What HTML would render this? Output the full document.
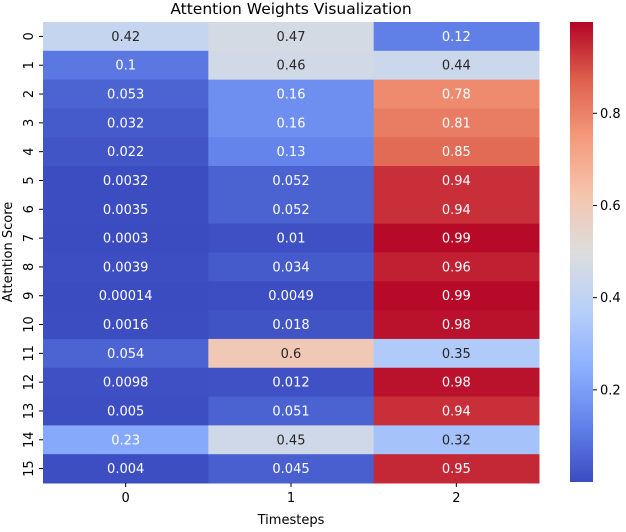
<!DOCTYPE html>
<html><head><meta charset="utf-8"><style>
body{margin:0;background:#fff;font-family:"DejaVu Sans","Liberation Sans",sans-serif;}
svg text{font-family:"DejaVu Sans","Liberation Sans",sans-serif;}
</style></head><body>
<svg id="chart" width="626" height="528" xmlns="http://www.w3.org/2000/svg">
<defs><linearGradient id="cbg" x1="0" y1="1" x2="0" y2="0"></linearGradient></defs>
<text x="291" y="14" text-anchor="middle" font-size="15.5" fill="#000">Attention Weights Visualization</text>
<g id="cells"></g>
<g id="axes"></g>
<text x="291" y="524" text-anchor="middle" font-size="13">Timesteps</text>
<text transform="translate(12,252) rotate(-90)" text-anchor="middle" font-size="13">Attention Score</text>
<rect x="570" y="22" width="23" height="460" fill="url(#cbg)"/>
<g id="cbticks"></g>
</svg>
<script>
const timesteps = ["0","1","2"];
const rowLabels = ["0","1","2","3","4","5","6","7","8","9","10","11","12","13","14","15"];
const col0 = [0.42,0.1,0.053,0.032,0.022,0.0032,0.0035,0.0003,0.0039,0.00014,0.0016,0.054,0.0098,0.005,0.23,0.004];
const col1 = [0.47,0.46,0.16,0.16,0.13,0.052,0.052,0.01,0.034,0.0049,0.018,0.6,0.012,0.051,0.45,0.045];
const col2 = [0.12,0.44,0.78,0.81,0.85,0.94,0.94,0.99,0.96,0.99,0.98,0.35,0.98,0.94,0.32,0.95];
const cbTicks = [0.2,0.4,0.6,0.8];
const vmin = 0.00014, vmax = 0.998;

const NS="http://www.w3.org/2000/svg";
const L=43,R=539,T=22,B=483;
const CBT=22,CBB=482;
const cols=[col0,col1,col2];
const cw=(R-L)/timesteps.length, rh=(B-T)/rowLabels.length;
const xPos=i=>L+i*cw, yPos=j=>T+j*rh;
const stops=[[59,76,192],[98,130,234],[141,176,254],[184,208,249],[221,221,221],[245,196,173],[244,154,123],[222,96,77],[180,4,38]];
function cmap(t){t=Math.max(0,Math.min(1,t));const p=t*8,i=Math.min(7,Math.floor(p)),f=p-i;
 return stops[i].map((c,k)=>Math.round(c+(stops[i+1][k]-c)*f));}
const norm=v=>(v-vmin)/(vmax-vmin);
function lum(c){const l=c.map(x=>{x/=255;return x<=0.03928?x/12.92:Math.pow((x+0.055)/1.055,2.4)});return 0.2126*l[0]+0.7152*l[1]+0.0722*l[2];}
function fmt(v){return String(+v.toPrecision(2));}
function mk(tag,attrs,parent){const e=document.createElementNS(NS,tag);for(const k in attrs)e.setAttribute(k,attrs[k]);parent.appendChild(e);return e;}
const cells=document.getElementById('cells'), axes=document.getElementById('axes');
cols.forEach((col,i)=>col.forEach((v,j)=>{
 const c=cmap(norm(v));
 const r=mk('rect',{x:xPos(i),y:yPos(j),width:cw+0.5,height:rh+0.5,fill:`rgb(${c})`},cells);
 
 
 const t=mk('text',{x:xPos(i)+cw/2,y:yPos(j)+rh/2+4.5,'text-anchor':'middle','font-size':13,fill:lum(c)>0.408?'#262626':'#fff'},cells);
 t.textContent=fmt(v);
 
 
}));
timesteps.forEach((s,i)=>{const x=xPos(i)+cw/2;
 const tk=mk('line',{x1:x,x2:x,y1:B,y2:B+4,stroke:'#000'},axes);
 
 
 const t=mk('text',{x:x,y:B+19,'text-anchor':'middle','font-size':13},axes);t.textContent=s;
 
 });
rowLabels.forEach((s,j)=>{const y=yPos(j)+rh/2;
 const tk=mk('line',{x1:L-4,x2:L,y1:y,y2:y,stroke:'#000'},axes);
 
 
 const t=mk('text',{transform:`translate(${L-10},${y}) rotate(-90)`,'text-anchor':'middle','font-size':13},axes);t.textContent=s;
 
 });
const g=document.getElementById('cbg');
for(let k=0;k<=16;k++){mk('stop',{offset:k/16,'stop-color':`rgb(${cmap(k/16)})`},g);}
const cbg=document.getElementById('cbticks');
const cy=v=>CBB-(v-vmin)/(vmax-vmin)*(CBB-CBT);
cbTicks.forEach(v=>{const y=cy(v);
 const tk=mk('line',{x1:593,x2:597,y1:y,y2:y,stroke:'#000'},cbg);
 
 
 const t=mk('text',{x:600,y:y+4.5,'font-size':13},cbg);t.textContent=String(v);
 
 });
</script>
</body></html>
